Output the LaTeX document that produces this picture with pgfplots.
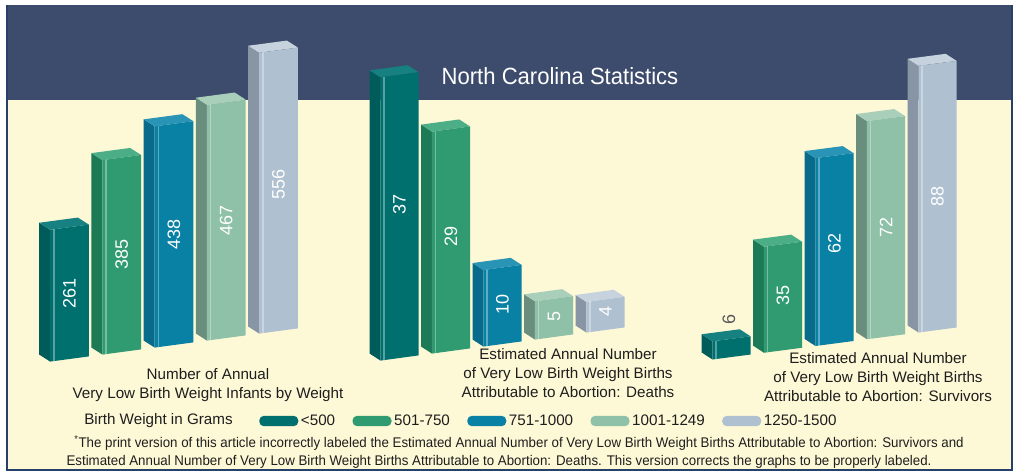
\documentclass[border=0pt]{standalone}
\usepackage{pgfplots}
\pgfplotsset{compat=1.18}
\usepackage{fontspec}
\setmainfont{Liberation Sans}
\newfontfamily\titlefont[FakeStretch=0.94]{Liberation Sans}
\newfontfamily\notefont[FakeStretch=0.95]{Liberation Sans}

\definecolor{band}{HTML}{3D4C6C}
\definecolor{cream}{HTML}{FDF8D6}
\definecolor{framec}{HTML}{27406A}
\definecolor{txt}{HTML}{1E1E1E}
\definecolor{aF}{HTML}{00706F}\definecolor{aS}{HTML}{005B5B}\definecolor{aT}{HTML}{178080}
\definecolor{bF}{HTML}{309B71}\definecolor{bS}{HTML}{1C7A56}\definecolor{bT}{HTML}{4CAE86}
\definecolor{cF}{HTML}{0881A5}\definecolor{cS}{HTML}{086B8B}\definecolor{cT}{HTML}{2A94B6}
\definecolor{dF}{HTML}{8FC0A8}\definecolor{dS}{HTML}{6A8E7E}\definecolor{dT}{HTML}{A9CFBA}
\definecolor{eF}{HTML}{AFC0D0}\definecolor{eS}{HTML}{8795A4}\definecolor{eT}{HTML}{C6D2DE}

\newcommand\lab{\fontsize{11.4pt}{14.25pt}\selectfont}
\newcommand\valfont{\fontsize{13.5pt}{16pt}\selectfont}
\newcommand\notesize{\notefont\fontsize{10.5pt}{14.25pt}\selectfont}

% \tdbar{x}{value}{colour prefix}{depth in y units}{unused}
\newcommand\tdbar[5]{%
  \pgfmathsetmacro\xl{#1-0.37}%
  \pgfmathsetmacro\xr{#1+0.37}%
  \pgfmathsetmacro\bl{#1-0.37-0.21}%
  \pgfmathsetmacro\br{#1+0.37-0.21}%
  \pgfmathsetmacro\tp{#2+#4}%
  \pgfmathsetmacro\hl{#1-0.30}%
  \addplot[fill=#3S, draw=none] coordinates {(\bl,#4) (\xl,0) (\xl,#2) (\bl,\tp)} -- cycle;
  \addplot[fill=#3T, draw=none] coordinates {(\xl,#2) (\xr,#2) (\br,\tp) (\bl,\tp)} -- cycle;
  \addplot[fill=#3F, draw=none] coordinates {(\xl,0) (\xr,0) (\xr,#2) (\xl,#2)} -- cycle;
  \addplot[white, opacity=0.35, line width=1.2pt] coordinates {(\hl,0) (\hl,#2)};
}
\newcommand\vallabel[3]{% x, y position, text
  \addplot[draw=none, nodes near coords, point meta=explicit symbolic,
    every node near coord/.append style={anchor=center, rotate=90, font=\valfont, inner sep=0pt, text=white}]
    coordinates {(#1,#2) [#3]};
}

\begin{document}
\begin{tikzpicture}
\begin{scope}[x=0.75pt, y=-0.75pt]
  \useasboundingbox (0,0) rectangle (1016,472);
  \fill[white] (0,0) rectangle (1016,472);
  \fill[cream] (7,100) rectangle (1012,470);
  \fill[band] (7,5) rectangle (1012,100);
  \draw[framec, line width=1.5pt] (7,5) -- (7,470) -- (1012,470) -- (1012,5);
  \node[white, font=\titlefont\fontsize{17.6pt}{20pt}\selectfont] at (560,76) {North Carolina Statistics};
\end{scope}

% Group 1: Number of annual VLBW infants by weight
\begin{axis}[at={(17.25*0.75pt,-366*0.75pt)}, anchor=origin,
  x={(39.19pt,5.25pt)}, y={(0pt,0.3788pt)},
  xmin=0, xmax=6, ymin=0, ymax=600, hide axis, clip=false]
  \tdbar{1}{261}{a}{16.8}{}
  \tdbar{2}{385}{b}{16.8}{}
  \tdbar{3}{438}{c}{16.8}{}
  \tdbar{4}{467}{d}{16.8}{}
  \tdbar{5}{556}{e}{16.8}{}
  \vallabel{1}{130.5}{261}
  \vallabel{2}{192.5}{385}
  \vallabel{3}{219}{438}
  \vallabel{4}{233.5}{467}
  \vallabel{5}{290}{556}
\end{axis}

% Group 2: Deaths
\begin{axis}[at={(348*0.75pt,-365*0.75pt)}, anchor=origin,
  x={(38.625pt,5.25pt)}, y={(0pt,5.74pt)},
  xmin=0, xmax=6, ymin=0, ymax=40, hide axis, clip=false]
  \tdbar{1}{37}{a}{1.11}{}
  \tdbar{2}{29}{b}{1.11}{}
  \tdbar{3}{10}{c}{1.11}{}
  \tdbar{4}{5}{d}{1.11}{}
  \tdbar{5}{4}{e}{1.11}{}
  \vallabel{1}{20}{37}
  \vallabel{2}{15}{29}
  \vallabel{3}{5.2}{10}
  \vallabel{4}{2.7}{5}
  \vallabel{5}{2.4}{4}
\end{axis}

% Group 3: Survivors
\begin{axis}[at={(680*0.75pt,-363.75*0.75pt)}, anchor=origin,
  x={(38.625pt,5.06pt)}, y={(0pt,2.2725pt)},
  xmin=0, xmax=6, ymin=0, ymax=100, hide axis, clip=false]
  \tdbar{1}{6}{a}{2.8}{}
  \tdbar{2}{35}{b}{2.8}{}
  \tdbar{3}{62}{c}{2.8}{}
  \tdbar{4}{72}{d}{2.8}{}
  \tdbar{5}{88}{e}{2.8}{}
  \addplot[draw=none, nodes near coords, point meta=explicit symbolic,
    every node near coord/.append style={anchor=center, rotate=90, font=\valfont, inner sep=0pt, text=black!65}]
    coordinates {(0.95,12.5) [6]};
  \vallabel{2}{18}{35}
  \vallabel{3}{33}{62}
  \vallabel{4}{36}{72}
  \vallabel{5}{44}{88}
\end{axis}

% Legend
\begin{axis}[at={(259*0.75pt,-421*0.75pt)}, anchor=west, hide axis,
  scale only axis, width=10pt, height=10pt, xmin=0, xmax=1, ymin=0, ymax=1,
  legend columns=-1,
  legend style={at={(0,0.5)}, anchor=west, draw=none, fill=none,
    inner xsep=0pt, inner ysep=0pt, font=\lab, text=txt,
    /tikz/every even column/.append style={column sep=11pt}},
  legend image code/.code={\fill[rounded corners=3.5pt] (0pt,-3.9pt) rectangle (29.25pt,3.9pt);}]
  \addlegendimage{fill=aF, draw=none}\addlegendentry{<500}
  \addlegendimage{fill=bF, draw=none}\addlegendentry{501-750}
  \addlegendimage{fill=cF, draw=none}\addlegendentry{751-1000}
  \addlegendimage{fill=dF, draw=none}\addlegendentry{1001-1249}
  \addlegendimage{fill=eF, draw=none}\addlegendentry{1250-1500}
\end{axis}

\begin{scope}[x=0.75pt, y=-0.75pt]
  \node[txt, align=center, font=\lab] at (208,385) {Number of Annual\\Very Low Birth Weight Infants by Weight};
  \node[txt, align=center, font=\lab] at (568,373) {Estimated Annual Number\\of Very Low Birth Weight Births\\Attributable to Abortion: Deaths};
  \node[txt, align=center, font=\lab] at (878,377) {Estimated Annual Number\\of Very Low Birth Weight Births\\Attributable to Abortion: Survivors};
  \node[txt, anchor=west, inner sep=0pt, font=\lab] at (84,421) {Birth Weight in Grams};
  \node[txt, font=\notesize] at (519,443)
    {\textsuperscript{*}The print version of this article incorrectly labeled the Estimated Annual Number of Very Low Birth Weight Births Attributable to Abortion: Survivors and};
  \node[txt, font=\notesize] at (499,462)
    {Estimated Annual Number of Very Low Birth Weight Births Attributable to Abortion: Deaths. This version corrects the graphs to be properly labeled.};
\end{scope}
\end{tikzpicture}
\end{document}
